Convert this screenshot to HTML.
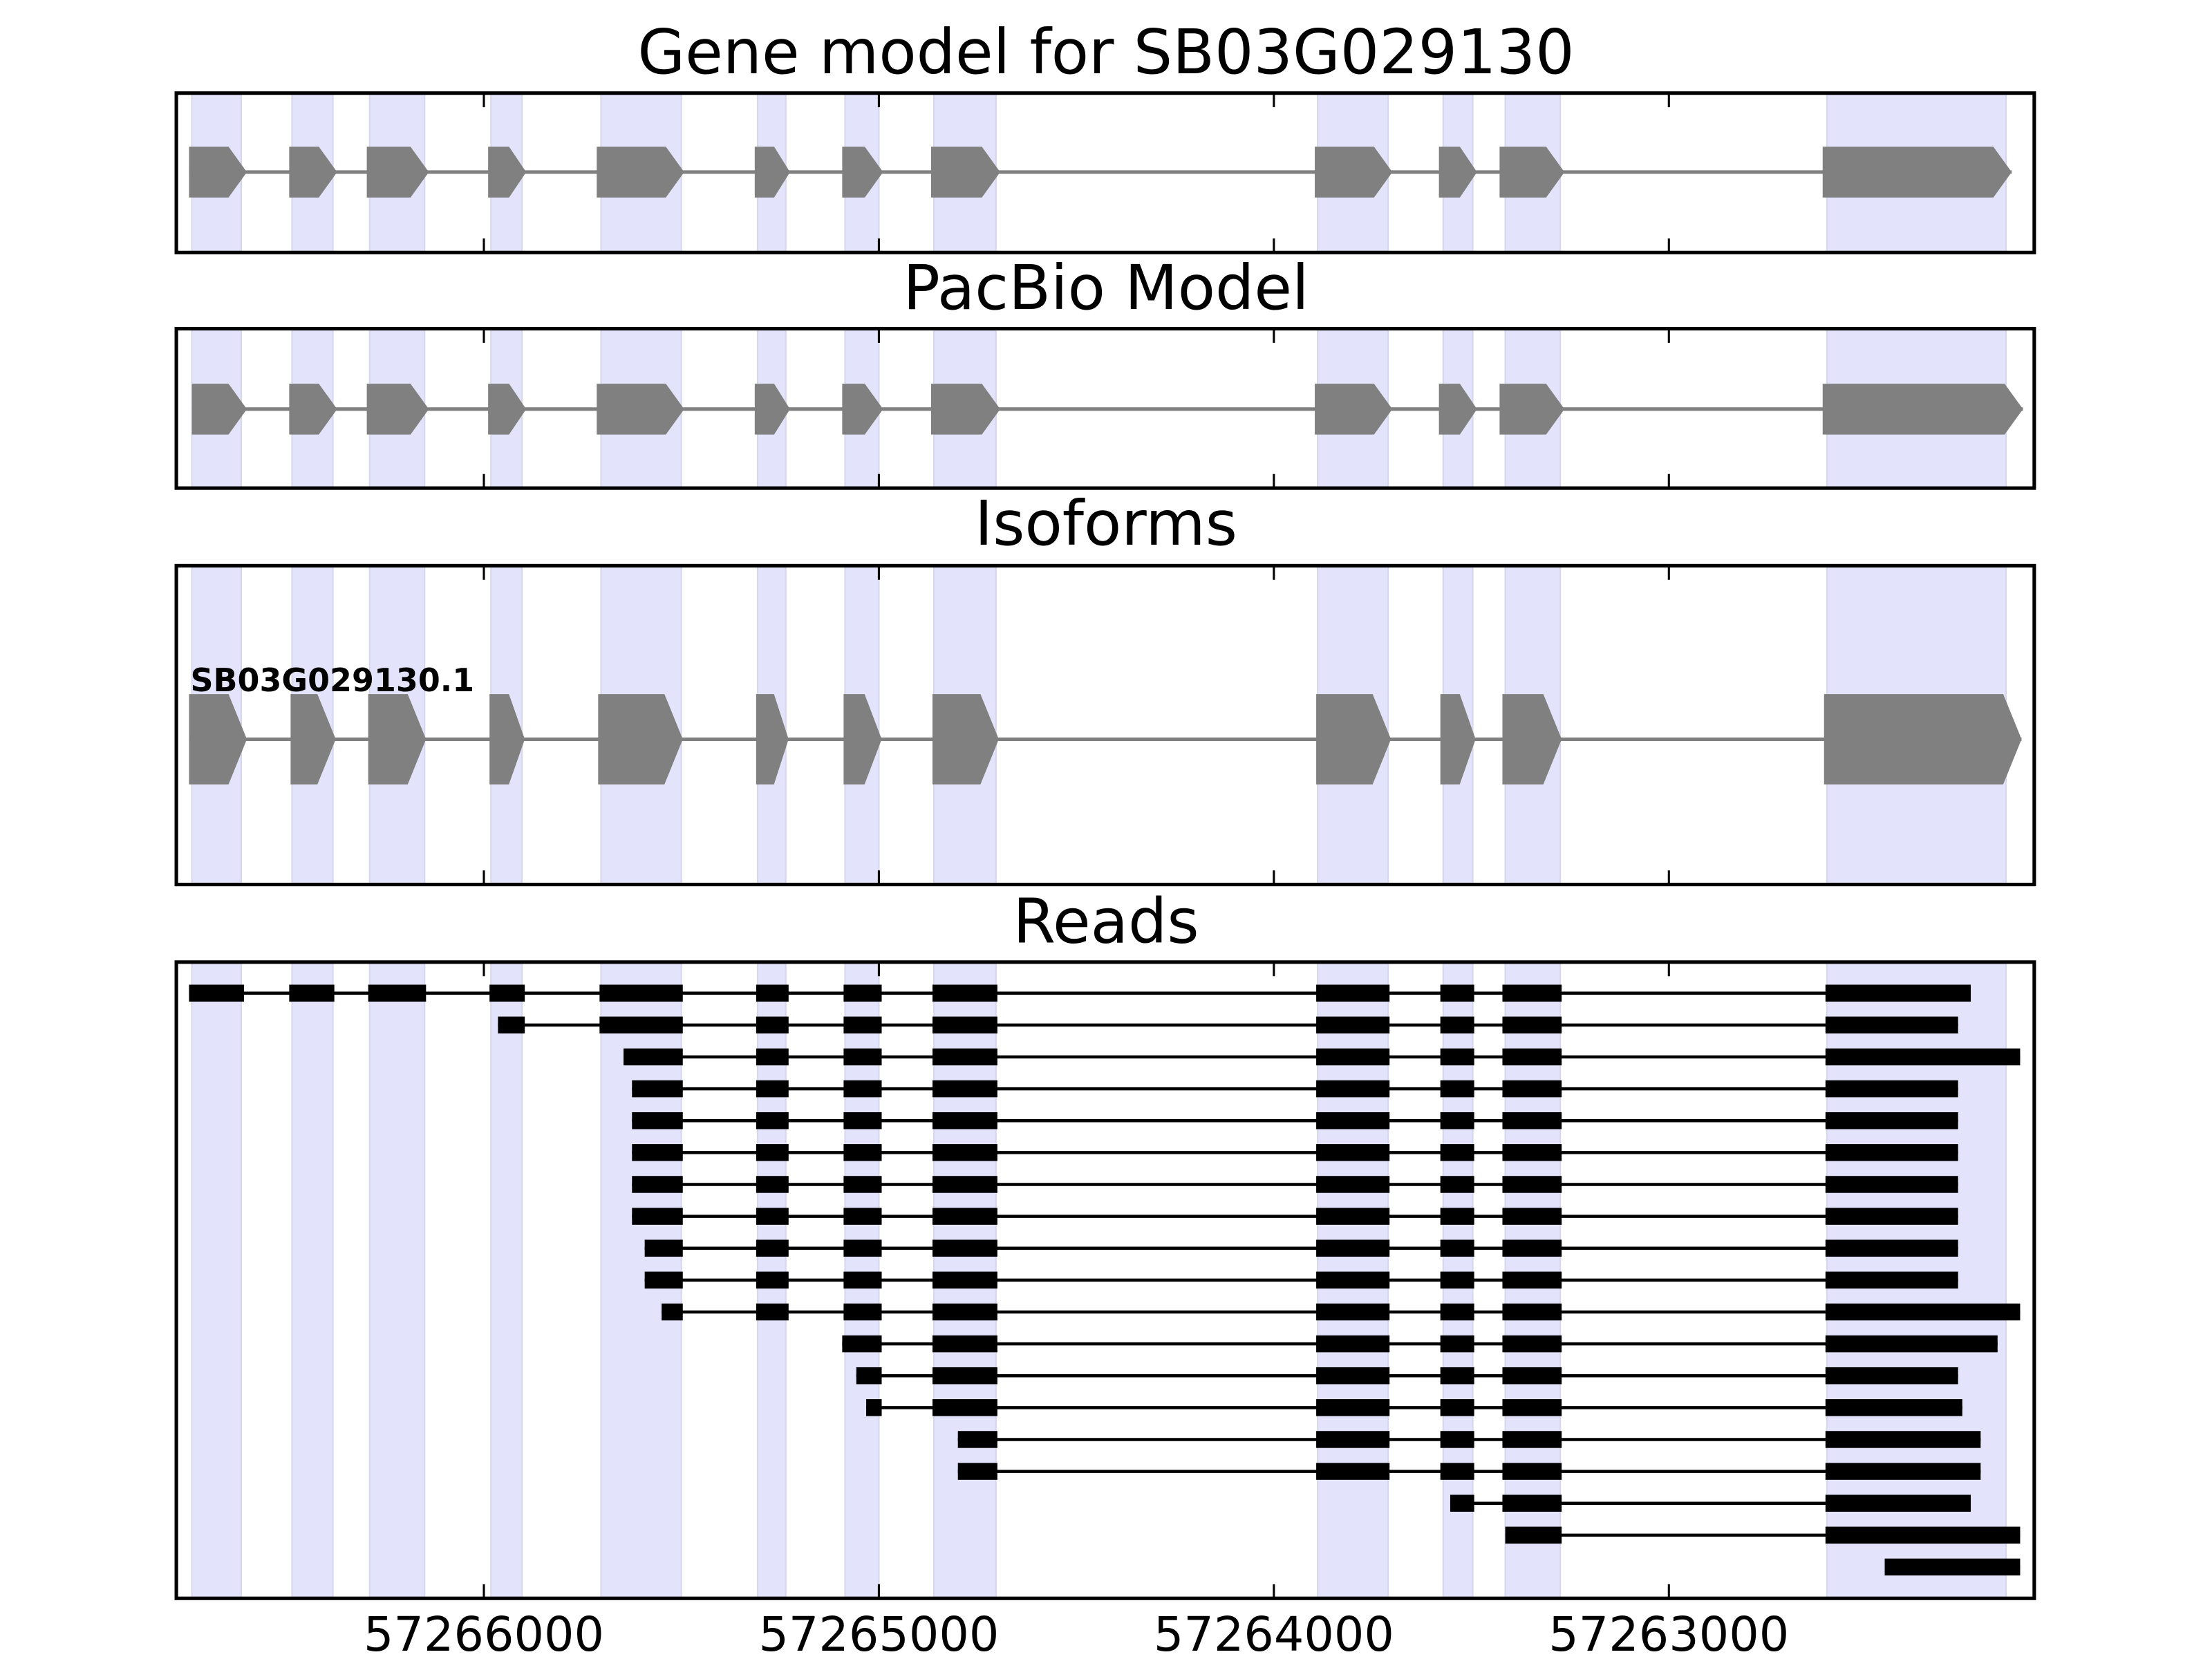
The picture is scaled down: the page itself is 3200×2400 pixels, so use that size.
<!DOCTYPE html>
<html><head><meta charset="utf-8"><style>html,body{margin:0;padding:0;background:#fff}svg{display:block}</style></head>
<body>
<svg id="s" xmlns="http://www.w3.org/2000/svg" width="3200" height="2400" viewBox="0 0 1568 1176" font-family="DejaVu Sans, Liberation Sans, sans-serif"></svg>
<script>
const s=document.getElementById('s');let h='';
const L=125,R=1442;
const panels=[[66,179,'Gene model for SB03G029130',52],[233,346,'PacBio Model',219],[401,627,'Isoforms',386],[682,1133,'Reads',668]];
const bands=[[136,171],[207,236],[262,301],[348,370],[426,483],[537,557],[599,623],[662,706],[934,984],[1023,1044],[1067,1106],[1295,1422]];
const ticks=[343,623,903,1183];
function exon(a,b,cy,hh,tip){const t=Math.min(tip,(b-a)*0.45);return `<polygon fill="#808080" points="${a},${cy-hh} ${b-t},${cy-hh} ${b},${cy} ${b-t},${cy+hh} ${a},${cy+hh}"/>`;}
panels.forEach(([t,b,title,ty])=>{
  bands.forEach(([a,c])=>{h+=`<rect x="${a}" y="${t}" width="${c-a}" height="${b-t}" fill="#e3e3fb" stroke="#d6d6ee" stroke-width="1"/>`;});
  h+=`<text x="784" y="${ty}" font-size="43.5" text-anchor="middle" fill="#000">${title}</text>`;
});
function model(cy,hh,ex,tip){h+=`<line x1="${ex[0][0]}" y1="${cy}" x2="${ex[ex.length-1][1]}" y2="${cy}" stroke="#808080" stroke-width="2.5"/>`;ex.forEach(([a,b])=>h+=exon(a,b,cy,hh,tip));}
const g1=[[134,175],[205,239],[260,304],[346,373],[423,485],[535,560],[597,626],[660,709],[932,987],[1020,1047],[1063,1109],[1292,1426]];
model(122,18,g1,13);
const g2=g1.map(x=>x.slice());g2[0][0]=136;g2[11][1]=1434;
model(290,18,g2,13);
const g3=[[134,175],[206,238],[261,302],[347,372],[424,484],[536,559],[598,625],[661,708],[933,986],[1021,1046],[1065,1107],[1293,1433]];
model(524,32,g3,13);
h+=`<text x="135" y="490" font-size="22.5" font-weight="bold" fill="#000">SB03G029130.1</text>`;
const E=[[134,173],[205,237],[261,302],[347,372],[425,484],[536,559],[598,625],[661,707],[933,985],[1021,1045],[1065,1107],[1294,1400]];
const rows=[[0,134,1397],[3,353,1388],[4,442,1432],[4,448,1388],[4,448,1388],[4,448,1388],[4,448,1388],[4,448,1388],[4,457,1388],[4,457,1388],[4,469,1432],[6,597,1416],[6,607,1388],[6,614,1391],[7,679,1404],[7,679,1404],[9,1028,1397],[10,1067,1432],[11,1336,1432]];
rows.forEach(([fi,st,en],i)=>{const y=704+i*22.6;
  h+=`<line x1="${st}" y1="${y}" x2="${en}" y2="${y}" stroke="#000" stroke-width="2.2"/>`;
  for(let k=fi;k<12;k++){let a=E[k][0],b=E[k][1];if(k==fi)a=st;if(k==11)b=en;h+=`<rect x="${a}" y="${y-6}" width="${b-a}" height="12" fill="#000"/>`;}
});
panels.forEach(([t,b])=>{
  ticks.forEach(x=>{h+=`<line x1="${x}" y1="${t}" x2="${x}" y2="${t+10}" stroke="#000" stroke-width="1.5"/><line x1="${x}" y1="${b}" x2="${x}" y2="${b-10}" stroke="#000" stroke-width="1.5"/>`;});
  h+=`<rect x="${L}" y="${t}" width="${R-L}" height="${b-t}" fill="none" stroke="#000" stroke-width="2.5"/>`;
});
['57266000','57265000','57264000','57263000'].forEach((l,i)=>{h+=`<text x="${ticks[i]}" y="1170" font-size="33.5" text-anchor="middle" fill="#000">${l}</text>`;});
s.innerHTML=h;
</script>
</body></html>
